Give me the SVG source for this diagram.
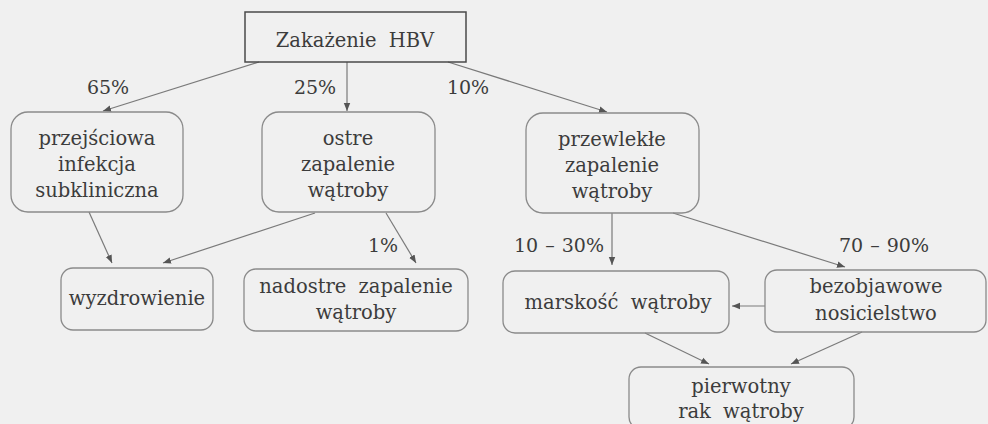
<svg xmlns="http://www.w3.org/2000/svg" width="988" height="424" viewBox="0 0 988 424">
<style>
text{font-family:"DejaVu Serif","Liberation Serif",serif;font-size:19.5px;fill:#3c3c3c;text-anchor:middle;word-spacing:6px}
.box{fill:none;stroke:#8a8a8a;stroke-width:1.3}
.top{fill:none;stroke:#4a4a4a;stroke-width:1.5}
.c{fill:none;stroke:#7a7a7a;stroke-width:1.2;marker-end:url(#ah)}
.lbl{font-size:19px;word-spacing:1px}
</style>
<defs>
<marker id="ah" viewBox="0 0 10 10" refX="10" refY="5" markerWidth="8" markerHeight="8" markerUnits="userSpaceOnUse" orient="auto">
<path d="M0,1 L10,5 L0,9 Z" fill="#555"/>
</marker>
</defs>
<rect width="988" height="424" fill="#f0f0f0"/>
<g id="connectors">
<line class="c" x1="259" y1="62" x2="103" y2="111"/>
<line class="c" x1="347" y1="62" x2="347" y2="111"/>
<line class="c" x1="448" y1="62" x2="607" y2="112"/>
<line class="c" x1="89" y1="212" x2="112" y2="263"/>
<line class="c" x1="315" y1="213" x2="163" y2="263"/>
<line class="c" x1="386" y1="213" x2="416" y2="263"/>
<line class="c" x1="612" y1="213" x2="612" y2="265"/>
<line class="c" x1="673" y1="213" x2="845" y2="267"/>
<line class="c" x1="765" y1="306" x2="732" y2="306"/>
<line class="c" x1="645" y1="333" x2="709" y2="364"/>
<line class="c" x1="862" y1="332" x2="791" y2="364"/>
<text class="lbl" x="108" y="94">65%</text>
<text class="lbl" x="315" y="94">25%</text>
<text class="lbl" x="468" y="94">10%</text>
<text class="lbl" x="383" y="252">1%</text>
<text class="lbl" x="559" y="252">10 – 30%</text>
<text class="lbl" x="884" y="252">70 – 90%</text>
</g>
<g id="n-hbv">
<rect class="top" x="245" y="12" width="221" height="50"/>
<text x="355" y="47">Zakażenie HBV</text>
</g>
<g id="n-przejsciowa">
<rect class="box" x="11" y="112" width="172" height="100" rx="17"/>
<text x="97" y="145">przejściowa</text>
<text x="97" y="171">infekcja</text>
<text x="97" y="197">subkliniczna</text>
</g>
<g id="n-ostre">
<rect class="box" x="262" y="112" width="173" height="100" rx="17"/>
<text x="348" y="145">ostre</text>
<text x="348" y="171">zapalenie</text>
<text x="348" y="197">wątroby</text>
</g>
<g id="n-przewlekle">
<rect class="box" x="526" y="113" width="173" height="100" rx="17"/>
<text x="612" y="146">przewlekłe</text>
<text x="612" y="172">zapalenie</text>
<text x="612" y="198">wątroby</text>
</g>
<g id="n-wyzdrowienie">
<rect class="box" x="61" y="268" width="152" height="62" rx="12"/>
<text x="137" y="305">wyzdrowienie</text>
</g>
<g id="n-nadostre">
<rect class="box" x="244" y="269" width="224" height="62" rx="12"/>
<text x="356" y="293">nadostre zapalenie</text>
<text x="356" y="319">wątroby</text>
</g>
<g id="n-marskosc">
<rect class="box" x="503" y="271" width="226" height="62" rx="12"/>
<text x="618" y="309">marskość wątroby</text>
</g>
<g id="n-bezobjawowe">
<rect class="box" x="765" y="270" width="221" height="62" rx="12"/>
<text x="876" y="293">bezobjawowe</text>
<text x="876" y="320">nosicielstwo</text>
</g>
<g id="n-pierwotny">
<rect class="box" x="629" y="367" width="225" height="62" rx="12"/>
<text x="741" y="393">pierwotny</text>
<text x="741" y="418">rak wątroby</text>
</g>
</svg>
